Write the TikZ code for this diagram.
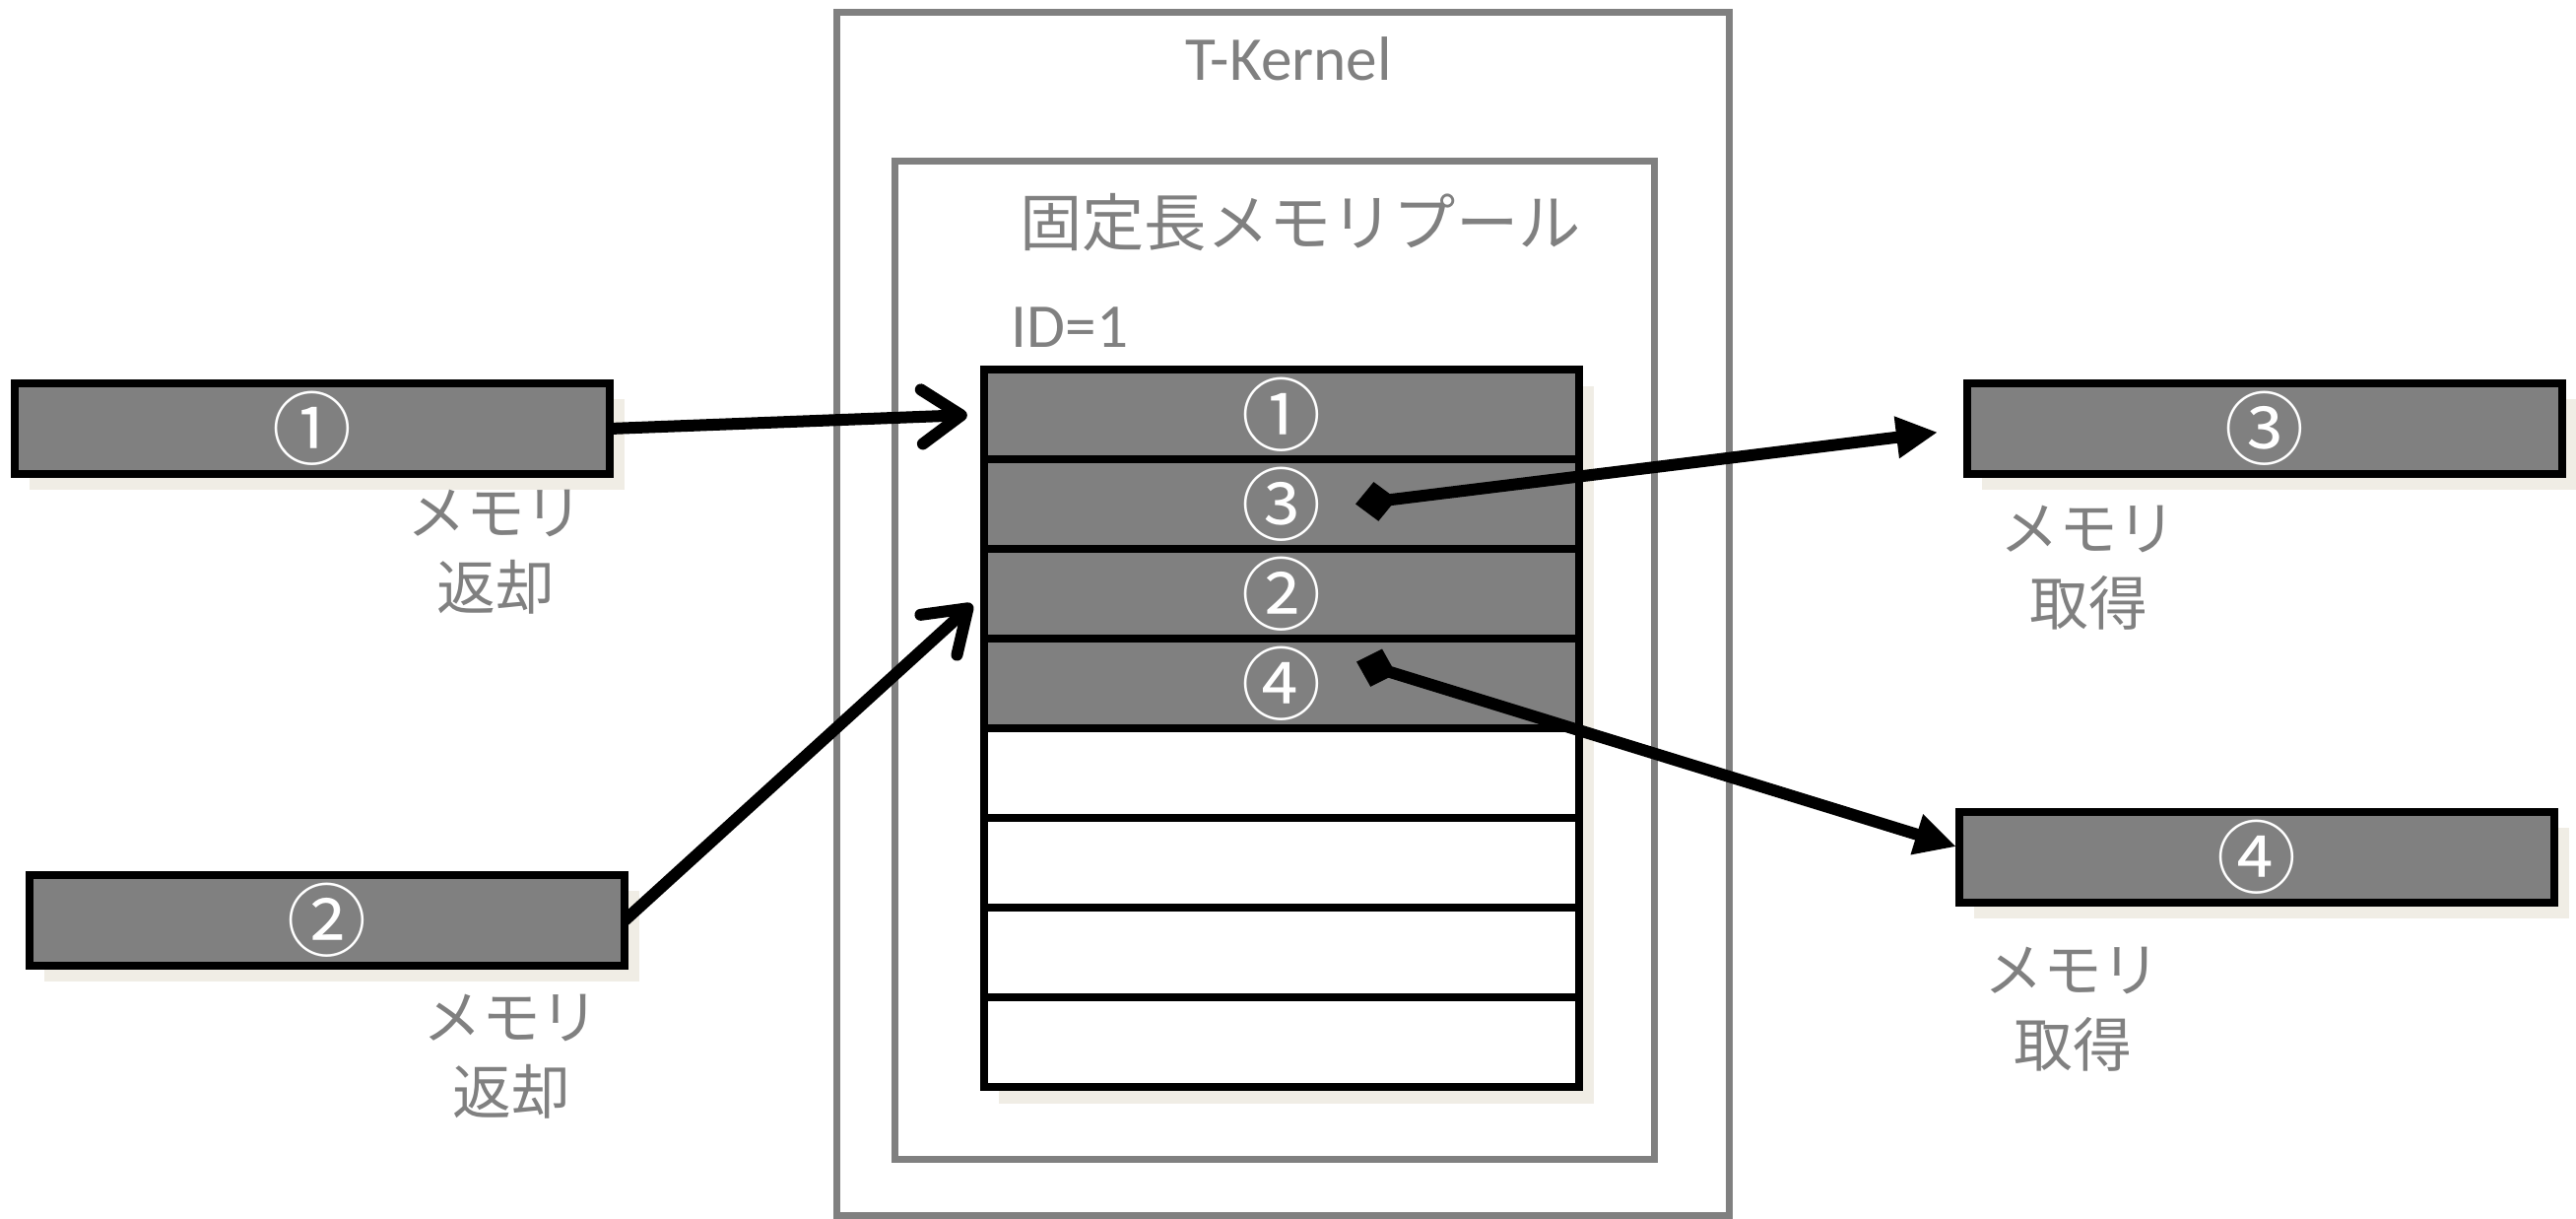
\documentclass[tikz,border=0pt]{standalone}
\usepackage{fontspec}
\setmainfont{Carlito}
\newfontfamily\jp{Noto Sans CJK JP}
\usetikzlibrary{arrows.meta,positioning,shadows,backgrounds}
\definecolor{frame}{RGB}{128,128,128}
\definecolor{beige}{RGB}{240,237,229}

\begin{document}
\begin{tikzpicture}[x=0.01cm,y=-0.01cm,
    blk/.style={draw=black,line width=0.08cm,fill=frame,minimum width=6.04cm,
      minimum height=0.91cm,inner sep=0pt,outer sep=0pt,text=white,
      font=\jp\fontsize{23}{23}\selectfont},
    blkshadow/.style={drop shadow={shadow xshift=0.15cm,shadow yshift=-0.16cm,
      fill=beige,opacity=1}},
    lbl/.style={text=frame,align=center,font=\jp\fontsize{17}{21.5}\selectfont},
    retarrow/.style={line width=0.12cm,-{Straight Barb[round,length=0.4cm,width=0.55cm]}},
    getarrow/.style={line width=0.12cm,
      {Diamond[length=0.42cm,width=0.4cm]}-{Triangle[length=0.42cm,width=0.4cm]}}]
  \useasboundingbox (0,0) rectangle (2615,1237);

  % Marcos
  \draw[frame,line width=0.07cm] (849,13) rectangle (1755,1233);
  \draw[frame,line width=0.07cm] (908,164) rectangle (1679,1176);
  \node[text=frame,anchor=base,font=\fontsize{18}{18}\selectfont] (kern) at (1308,82) {T-Kernel};
  \node[text=frame,font=\jp\fontsize{18}{18}\selectfont] (pool) at (1320,226) {固定長メモリプール};
  \node[text=frame,anchor=base west,inner sep=0pt,font=\fontsize{18}{18}\selectfont] (id) at (1026,353) {ID=1};

  % Bloques de la pool
  \foreach \i/\t/\c in {1/①/frame,2/③/frame,3/②/frame,4/④/frame,5//white,6//white,7//white,8//white}
    \node[blk,fill=\c] (row\i) at (1301,{375+91*(\i-0.5)}) {\t};
  \begin{scope}[on background layer]
    \fill[beige] ([shift={(15,17)}]row1.north west) rectangle ([shift={(15,17)}]row8.south east);
  \end{scope}

  % Bloques de fuera
  \node[blk,blkshadow] (blk1) at (317,435) {①};
  \node[blk,blkshadow] (blk2) at (332,934) {②};
  \node[blk,blkshadow] (blk3) at (2299,435) {③};
  \node[blk,blkshadow] (blk4) at (2291,870) {④};

  \node[lbl] (lbl1) at (503,560) {メモリ\\返却};
  \node[lbl] (lbl2) at (519,1072) {メモリ\\返却};
  \node[lbl] (lbl3) at (2120,576) {メモリ\\取得};
  \node[lbl] (lbl4) at (2104,1024) {メモリ\\取得};

  % Flechas
  \draw[retarrow,shorten >=0.17cm] (blk1.east) -- (row1.west);
  \draw[retarrow,shorten >=0.16cm] (blk2.east) -- (row3.west);
  \draw[getarrow,shorten >=0.3cm] ([xshift=0.75cm]row2.center) -- (blk3.west);
  \draw[getarrow,shorten >=0.03cm] ([xshift=0.76cm,yshift=0.22cm]row4.center) -- ([yshift=0.1cm]blk4.west);
\end{tikzpicture}
\end{document}
